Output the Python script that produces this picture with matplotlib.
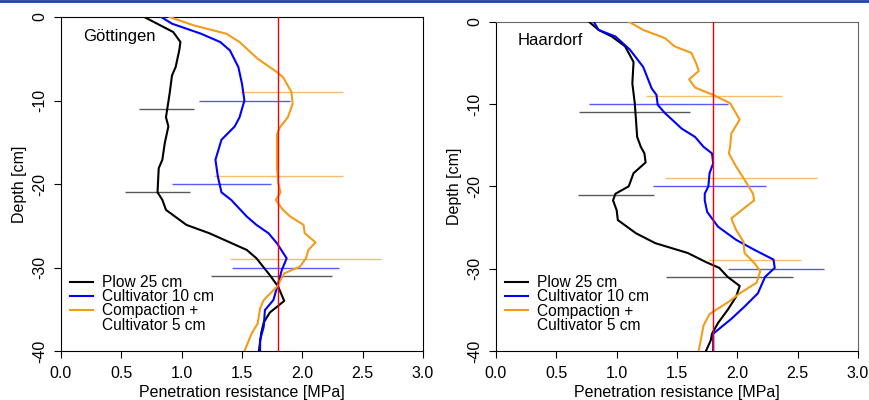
import matplotlib
matplotlib.use("Agg")
import matplotlib.pyplot as plt
from matplotlib.lines import Line2D

plt.rcParams["font.family"] = ["Liberation Sans", "DejaVu Sans"]
plt.rcParams["font.size"] = 11.5

# --- Göttingen ---
goe_plow_depth = [0, -0.6, -1.8, -3, -4, -6, -7, -9.2, -12, -13.1, -15.1, -17.1, -18.1, -21,
                  -21.9, -23.1, -24.9, -25.9, -27.9, -28.9, -30.9, -32.3, -34.0, -35.4, -36.6, -37.8, -40]
goe_plow = [0.69, 0.77, 0.93, 0.99, 0.98, 0.95, 0.92, 0.90, 0.87, 0.89, 0.86, 0.84, 0.81, 0.80,
            0.84, 0.87, 1.04, 1.23, 1.54, 1.62, 1.73, 1.80, 1.85, 1.73, 1.68, 1.66, 1.64]
goe_cult_depth = [0, -0.8, -2, -3, -4, -6, -8, -10, -12, -13.1, -14.7, -17.1, -19.1, -21,
                  -21.9, -23.9, -24.9, -25.9, -27.1, -28.9, -30.3, -31.9, -33.9, -35.1, -37.1, -38.7, -40]
goe_cult = [0.83, 0.92, 1.16, 1.32, 1.40, 1.47, 1.50, 1.52, 1.48, 1.44, 1.33, 1.28, 1.30, 1.33,
            1.41, 1.54, 1.62, 1.72, 1.79, 1.87, 1.83, 1.80, 1.76, 1.69, 1.68, 1.65, 1.65]
goe_comp_depth = [0, -1, -2, -3, -5, -6.6, -7.2, -9, -10.4, -12, -13.3, -14.1, -15.9, -17.9, -19.9, -21,
                  -21.9, -23.1, -23.9, -24.9, -25.9, -27.0, -27.9, -28.9, -29.9, -30.7, -32.3, -33.9,
                  -34.9, -36.7, -37.9, -40]
goe_comp = [0.90, 1.10, 1.37, 1.48, 1.63, 1.79, 1.84, 1.91, 1.92, 1.88, 1.81, 1.79, 1.79, 1.79, 1.80, 1.82,
            1.78, 1.84, 1.90, 2.01, 2.02, 2.11, 2.05, 2.03, 1.98, 1.85, 1.79, 1.68,
            1.65, 1.63, 1.58, 1.52]
goe_err_plow = ([-11, -21, -31], [0.65, 0.53, 1.24], [1.10, 1.07, 2.25])
goe_err_cult = ([-10, -20, -30], [1.14, 0.92, 1.42], [1.90, 1.74, 2.30])
goe_err_comp = ([-9, -19, -29], [1.48, 1.27, 1.40], [2.34, 2.34, 2.65])

# --- Haardorf ---
haa_plow_depth = [0, -1, -1.8, -3, -4.9, -7.5, -9.9, -11.9, -14, -15.2, -16, -17.1, -18.4, -20, -20.9,
                  -21.7, -22.9, -24.1, -25.7, -26.9, -28.1, -29.2, -29.9, -31.0, -32.1, -33.4, -35.0,
                  -36.6, -37.9, -38.7, -40]
haa_plow = [0.77, 0.85, 0.96, 1.07, 1.14, 1.13, 1.15, 1.16, 1.17, 1.20, 1.23, 1.24, 1.14, 1.10, 0.99,
            0.97, 1.00, 1.01, 1.16, 1.32, 1.59, 1.74, 1.85, 1.92, 2.02, 1.99, 1.92,
            1.84, 1.79, 1.78, 1.74]
haa_cult_depth = [0, -1, -1.8, -3.4, -5.5, -8.1, -8.9, -10.1, -11.1, -13, -14, -15.2, -16, -17.2, -18.4,
                  -20, -20.9, -21.7, -23.1, -24.9, -26.5, -27.7, -28.9, -29.9, -31.0, -33.0, -34.6,
                  -36.1, -37.9, -40]
haa_cult = [0.81, 0.85, 0.99, 1.11, 1.22, 1.29, 1.33, 1.34, 1.40, 1.54, 1.65, 1.72, 1.79, 1.80, 1.77,
            1.76, 1.73, 1.73, 1.75, 1.84, 1.99, 2.14, 2.30, 2.31, 2.23, 2.17, 2.06,
            1.95, 1.80, 1.80]
haa_comp_depth = [0, -1, -2, -3, -3.8, -5.1, -6, -7, -8, -8.9, -9.9, -10.9, -11.9, -13.6, -15.2, -16,
                  -17.6, -19.2, -20.9, -21.7, -22.5, -23.9, -25.3, -26.7, -28.1, -29.3, -30.3, -31.7,
                  -32.9, -34.1, -35.5, -36.9, -40]
haa_comp = [1.10, 1.22, 1.40, 1.48, 1.62, 1.66, 1.68, 1.60, 1.65, 1.80, 1.94, 1.98, 2.02, 1.95, 1.94, 1.93,
            1.99, 2.06, 2.13, 2.14, 2.07, 1.95, 1.99, 2.05, 2.06, 2.14, 2.19, 2.16,
            2.03, 1.92, 1.77, 1.72, 1.68]
haa_err_plow = ([-11, -21, -31], [0.69, 0.68, 1.41], [1.61, 1.31, 2.46])
haa_err_cult = ([-10, -20, -30], [0.77, 1.30, 1.92], [1.92, 2.24, 2.72])
haa_err_comp = ([-9, -19, -29], [1.24, 1.40, 1.76], [2.37, 2.66, 2.53])

threshold = 1.8
x_ticks = [0.0, 0.5, 1.0, 1.5, 2.0, 2.5, 3.0]
y_ticks = [0, -10, -20, -30, -40]
legend_labels = ["Plow 25 cm", "Cultivator 10 cm", "Compaction +", "Cultivator 5 cm"]

BLACK = "#000000"
BLUE = "#0000ff"
ORANGE = "#f39c1a"

panels = [
    ("Göttingen", [0.0701, 0.1225, 0.4161, 0.835], "#000000",
     [(goe_plow_depth, goe_plow, goe_err_plow, BLACK),
      (goe_cult_depth, goe_cult, goe_err_cult, BLUE),
      (goe_comp_depth, goe_comp, goe_err_comp, ORANGE)]),
    ("Haardorf", [0.5701, 0.1225, 0.4161, 0.8233], "#666666",
     [(haa_plow_depth, haa_plow, haa_err_plow, BLACK),
      (haa_cult_depth, haa_cult, haa_err_cult, BLUE),
      (haa_comp_depth, haa_comp, haa_err_comp, ORANGE)]),
]

fig = plt.figure(figsize=(8.7, 4.0), dpi=100)
fig.add_artist(Line2D([0, 1], [0.997, 0.997], color="#1c3fa8", linewidth=2.0,
                      transform=fig.transFigure))

for title, rect, frame, series in panels:
    ax = fig.add_axes(rect)
    for depth, values, (e_depth, e_low, e_high), color in series:
        ax.plot(values, depth, color=color, linewidth=1.5, zorder=3)
        ax.hlines(e_depth, e_low, e_high, colors=color, linewidth=1.0, alpha=0.65, zorder=2)
    ax.axvline(threshold, color="#ff0000", linewidth=1.0, zorder=4)
    ax.set_xlim(0, 3)
    ax.set_ylim(-40, 0)
    ax.set_xticks(x_ticks, [f"{t:.1f}" for t in x_ticks])
    ax.set_yticks(y_ticks, [str(t) for t in y_ticks], rotation=90, va="center")
    ax.tick_params(axis="x", direction="out", length=5, width=0.8, labelsize=11.5, pad=6)
    ax.tick_params(axis="y", direction="out", length=5, width=0.8, labelsize=11.5, pad=5)
    for name in ("top", "right"):
        ax.spines[name].set_color(frame)
    ax.set_xlabel("Penetration resistance [MPa]", fontsize=11.5, labelpad=3)
    ax.set_ylabel("Depth [cm]", fontsize=11.5, labelpad=4)
    ax.text(0.06, 0.965, title, transform=ax.transAxes, ha="left", va="top", fontsize=12)
    handles = [
        Line2D([], [], color=BLACK, linewidth=1.5),
        Line2D([], [], color=BLUE, linewidth=1.5),
        Line2D([], [], color=ORANGE, linewidth=1.5),
        Line2D([], [], color="none"),
    ]
    ax.legend(handles, legend_labels, loc="lower left", bbox_to_anchor=(0.025, 0.055),
              frameon=False, borderpad=0, borderaxespad=0, handlelength=1.5,
              handletextpad=0.55, labelspacing=-0.05, fontsize=11.2)

fig.savefig("out.png", dpi=100)
